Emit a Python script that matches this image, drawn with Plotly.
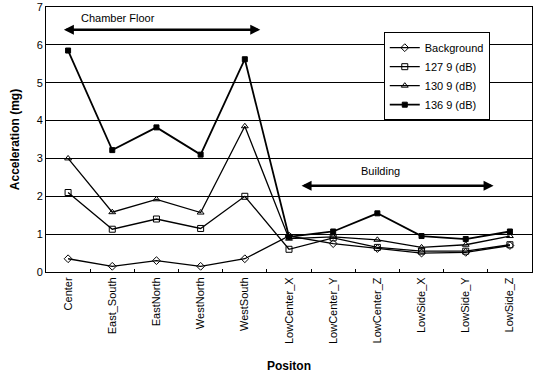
import plotly.graph_objects as go

categories = ["Center", "East_South", "EastNorth", "WestNorth", "WestSouth",
              "LowCenter_X", "LowCenter_Y", "LowCenter_Z", "LowSide_X", "LowSide_Y", "LowSide_Z"]
background = [0.35, 0.15, 0.30, 0.15, 0.35, 0.95, 0.75, 0.62, 0.50, 0.52, 0.70]
db127 = [2.10, 1.13, 1.40, 1.15, 2.00, 0.60, 0.90, 0.65, 0.55, 0.55, 0.72]
db130 = [3.00, 1.58, 1.92, 1.57, 3.85, 0.88, 0.93, 0.85, 0.65, 0.72, 0.95]
db136 = [5.85, 3.22, 3.82, 3.10, 5.62, 0.93, 1.07, 1.55, 0.95, 0.87, 1.07]
series_names = ["Background", "127 9 (dB)", "130 9 (dB)", "136 9 (dB)"]
yticks = [0, 1, 2, 3, 4, 5, 6, 7]

FONT = "Arial, Liberation Sans, sans-serif"

fig = go.Figure()
styles = [
    dict(symbol="diamond-open", size=6),
    dict(symbol="square-open", size=6),
    dict(symbol="triangle-up-open", size=6),
    dict(symbol="square", size=5),
]
for name, vals, st in zip(series_names, [background, db127, db130, db136], styles):
    fig.add_trace(go.Scatter(
        x=categories, y=vals, name=name, mode="lines+markers",
        line=dict(color="black", width=1.8 if name.startswith("136") else 1.3),
        marker=dict(color="black", line=dict(color="black", width=1), **st),
    ))

fig.update_layout(
    width=534, height=381,
    margin=dict(l=46, r=2, t=7, b=109),
    paper_bgcolor="white", plot_bgcolor="white",
    font=dict(family=FONT, size=11, color="black"),
    showlegend=True,
    legend=dict(x=0.695, y=0.905, xanchor="left", yanchor="top",
                bgcolor="white", bordercolor="black", borderwidth=1,
                font=dict(size=11), tracegroupgap=0, itemwidth=30),
    xaxis=dict(
        type="category", range=[-0.5, 10.5],
        showline=True, linecolor="black", linewidth=1, mirror=True,
        ticks="inside", ticklen=3, tickson="boundaries", tickcolor="black",
        tickangle=-90, showgrid=False,
        title=dict(text="<b>Positon</b>", font=dict(size=12), standoff=18),
    ),
    yaxis=dict(
        range=[0, 7], tickvals=yticks,
        showline=True, linecolor="black", linewidth=1, mirror=True,
        showgrid=True, gridcolor="black", gridwidth=1,
        ticks="", zeroline=False,
        title=dict(text="<b>Acceleration (mg)</b>", font=dict(size=12), standoff=14),
    ),
    annotations=[
        dict(x=4.35, y=6.4, ax=-0.13, ay=6.4, xref="x", yref="y", axref="x", ayref="y",
             text="", showarrow=True, arrowhead=2, arrowside="end+start",
             arrowwidth=2.5, arrowsize=0.8, arrowcolor="black"),
        dict(x=1.12, y=6.72, xref="x", yref="y", text="Chamber Floor", showarrow=False,
             font=dict(size=11)),
        dict(x=9.63, y=2.28, ax=5.25, ay=2.28, xref="x", yref="y", axref="x", ayref="y",
             text="", showarrow=True, arrowhead=2, arrowside="end+start",
             arrowwidth=2.5, arrowsize=0.8, arrowcolor="black"),
        dict(x=7.07, y=2.68, xref="x", yref="y", text="Building", showarrow=False,
             font=dict(size=11)),
    ],
)

fig.write_html("out.html")
